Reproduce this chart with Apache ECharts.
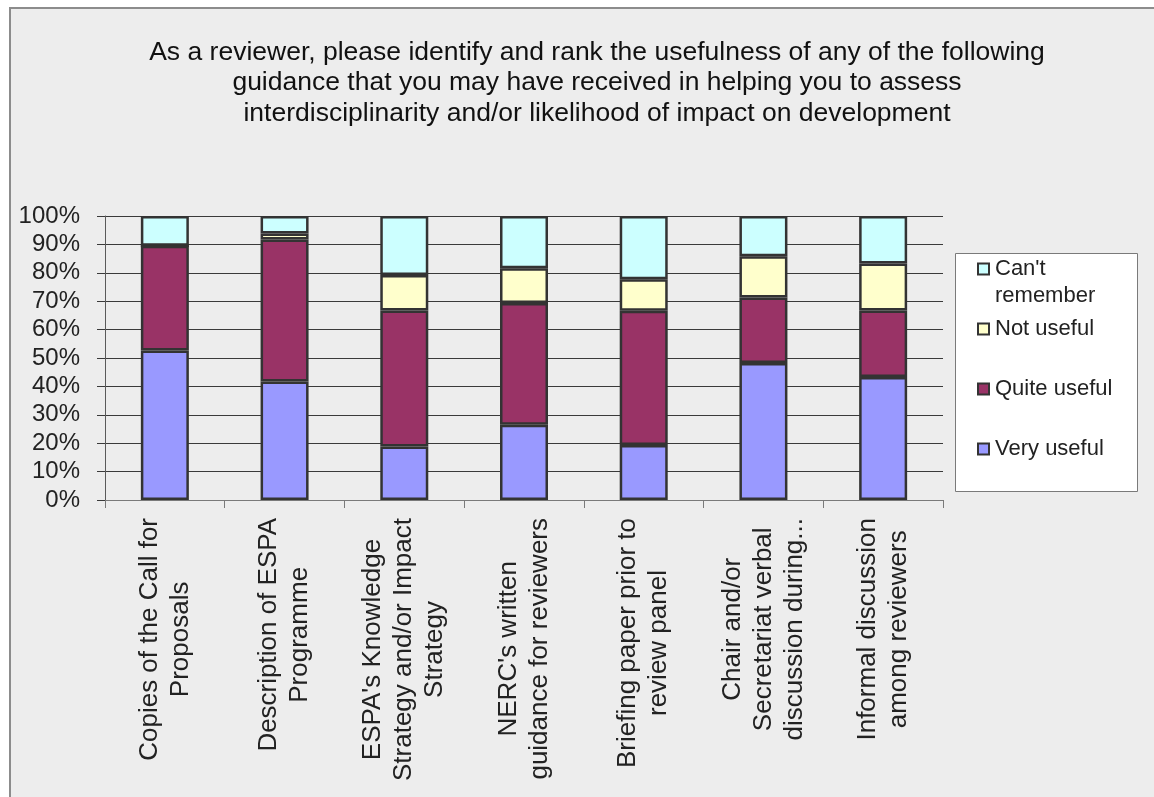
<!DOCTYPE html>
<html>
<head>
<meta charset="utf-8">
<script src="https://cdn.jsdelivr.net/npm/echarts@6/dist/echarts.min.js"></script>
<style>
  html, body { margin: 0; padding: 0; background: #ffffff; }
  #frame {
    position: absolute; left: 9px; top: 7px; width: 1160px; height: 800px;
    background: #ededed; border-left: 2px solid #8c8c8c; border-top: 2px solid #8c8c8c;
  }
  #chart { position: absolute; left: 0; top: 0; width: 1154px; height: 797px; }
</style>
</head>
<body>
<div id="frame"></div>
<div id="chart"></div>
<script>
// Guidance sources (x-axis categories), line breaks as printed under each bar
const categories = [
  'Copies of the Call for\nProposals',
  'Description of ESPA\nProgramme',
  "ESPA's Knowledge\nStrategy and/or Impact\nStrategy",
  "NERC's written\nguidance for reviewers",
  'Briefing paper prior to\nreview panel',
  'Chair and/or\nSecretariat verbal\ndiscussion during...',
  'Informal discussion\namong reviewers'
];

// Share of reviewers (%) per rating, bottom to top of each stack
const veryUseful    = [52.6, 41.7, 18.8, 26.5, 19.4, 48.2, 43.3];
const quiteUseful   = [36.9, 50.0, 47.9, 42.9, 47.2, 23.1, 23.4];
const notUseful     = [0.0,  2.1,  12.5, 12.2, 11.1, 14.5, 16.6];
const cantRemember  = [10.5, 6.2,  20.8, 18.4, 22.3, 14.2, 16.7];

const seriesNames = ['Very useful', 'Quite useful', 'Not useful', "Can't remember"];
const seriesData = [veryUseful, quiteUseful, notUseful, cantRemember];
const seriesColors = ['#9999ff', '#993366', '#ffffcc', '#ccffff'];

const titleText = 'As a reviewer, please identify and rank the usefulness of any of the following\n' +
  'guidance that you may have received in helping you to assess\n' +
  'interdisciplinarity and/or likelihood of impact on development';

const FONT = '"Liberation Sans", Arial, sans-serif';

const chart = echarts.init(document.getElementById('chart'), null, { renderer: 'canvas' });

// Legend box drawn with graphic elements, top entry = top of stack
const legendLeft = 955, legendTop = 253, legendW = 182, legendH = 238;
const legendChildren = [{
  type: 'rect',
  shape: { x: legendLeft + 0.5, y: legendTop + 0.5, width: legendW, height: legendH },
  style: { fill: '#ffffff', stroke: '#7a7a7a', lineWidth: 1 }
}];
const legendOrder = [3, 2, 1, 0];
legendOrder.forEach(function (si, k) {
  const cy = 269 + k * 60;
  legendChildren.push({
    type: 'rect',
    shape: { x: 978, y: cy - 5.5, width: 11, height: 11 },
    style: { fill: seriesColors[si], stroke: '#333333', lineWidth: 2 }
  });
  legendChildren.push({
    type: 'text',
    x: 995, y: cy - 13.5,
    style: {
      text: seriesNames[si], width: 135, overflow: 'break',
      font: '22px ' + FONT, fill: '#222222', lineHeight: 27,
      align: 'left', verticalAlign: 'top'
    }
  });
});

const option = {
  backgroundColor: 'transparent',
  animation: false,
  textStyle: { fontFamily: FONT },
  title: {
    text: titleText,
    left: 597,
    top: 37,
    textAlign: 'center',
    padding: 0,
    textStyle: { fontFamily: FONT, fontSize: 26.5, fontWeight: 'normal', color: '#111111', lineHeight: 30.5 }
  },
  grid: { left: 105, right: 211, top: 216, bottom: 297, containLabel: false },
  xAxis: {
    type: 'category',
    data: categories,
    boundaryGap: true,
    axisLine: { show: true, lineStyle: { color: '#7a7a7a', width: 1 } },
    axisTick: { show: true, alignWithLabel: false, length: 8, lineStyle: { color: '#7a7a7a' } },
    axisLabel: {
      interval: 0,
      rotate: 90,
      margin: 18,
      formatter: function (v) {
        return v.split('\n').map(function (s) { return '{c|' + s + '}'; }).join('\n');
      },
      rich: {
        c: { fontFamily: FONT, fontSize: 26, lineHeight: 31, color: '#222222', align: 'center' }
      }
    }
  },
  yAxis: {
    type: 'value',
    min: 0, max: 100, interval: 10,
    axisLine: { show: true, lineStyle: { color: '#5a5a5a', width: 1 } },
    axisTick: { show: true, length: 8, lineStyle: { color: '#3a3a3a' } },
    axisLabel: { formatter: '{value}%', fontSize: 24, color: '#222222', margin: 25, fontFamily: FONT },
    splitLine: { show: true, lineStyle: { color: '#3a3a3a', width: 1 } }
  },
  series: seriesNames.map(function (name, i) {
    return {
      name: name,
      type: 'bar',
      stack: 'total',
      data: seriesData[i],
      barWidth: 48,
      itemStyle: { color: seriesColors[i], borderColor: '#333333', borderWidth: 2.5 }
    };
  }),
  graphic: { elements: legendChildren }
};

chart.setOption(option);
</script>
</body>
</html>
